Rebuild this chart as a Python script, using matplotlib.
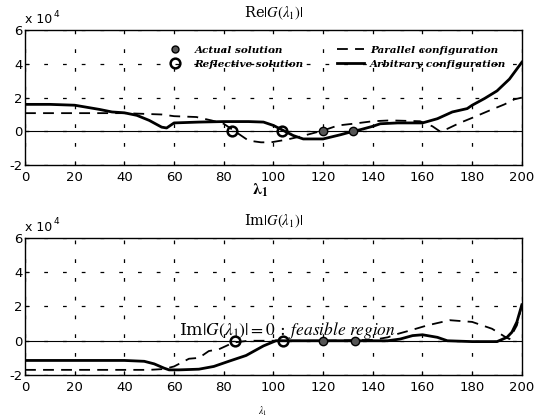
import matplotlib
matplotlib.use("Agg")
import matplotlib.pyplot as plt
import numpy as np
from matplotlib.lines import Line2D

SCALE = 1e4

# ---- Top panel: Re|G(lambda_1)| (values in units of 1e4)
re_arb_x = [0, 10, 20, 30, 35, 40, 45, 50, 55, 57, 60, 70, 80, 90, 96, 100, 104, 108, 112, 120,
            127, 132, 135, 140, 143, 150, 160, 166, 172, 178, 180, 185, 190, 195, 200]
re_arb_y = [1.6, 1.6, 1.55, 1.3, 1.15, 1.1, 0.95, 0.65, 0.25, 0.2, 0.5, 0.55, 0.58, 0.58, 0.55, 0.35,
            0.05, -0.25, -0.45, -0.45, -0.2, 0.0, 0.1, 0.3, 0.45, 0.5, 0.5, 0.75, 1.15, 1.35, 1.55,
            1.95, 2.4, 3.1, 4.1]
re_par_x = [0, 40, 55, 60, 69, 75, 80, 85, 90, 95, 99, 105, 111, 120, 126, 132, 140, 147, 159, 164,
            167, 170, 175, 180, 188, 193, 197, 200]
re_par_y = [1.08, 1.08, 1.0, 0.9, 0.85, 0.65, 0.45, -0.05, -0.55, -0.65, -0.65, -0.5, -0.3, 0.05,
            0.35, 0.45, 0.6, 0.65, 0.6, 0.3, 0.0, 0.15, 0.5, 0.8, 1.3, 1.6, 1.9, 2.0]
re_refl_x = [83.5, 103.5]
re_refl_y = [0, 0]
re_act_x = [120, 132]
re_act_y = [0, 0]

# ---- Bottom panel: Im|G(lambda_1)|
im_arb_x = [0, 40, 48, 52, 56, 58, 62, 70, 76, 82, 89, 96, 101, 110, 120, 130, 140, 146, 151, 156,
            160, 166, 170, 180, 190, 194, 196, 198, 200]
im_arb_y = [-1.15, -1.15, -1.2, -1.35, -1.6, -1.7, -1.7, -1.66, -1.5, -1.2, -0.86, -0.3, 0.0, 0.0,
            0.0, 0.0, 0.0, 0.0, 0.1, 0.3, 0.35, 0.2, 0.0, -0.05, -0.05, 0.2, 0.5, 1.1, 2.1]
im_par_x = [0, 50, 56, 60, 66, 70, 74, 78, 84, 90, 100, 120, 140, 146, 150, 155, 162, 171, 180, 188,
            193, 195, 198, 200]
im_par_y = [-1.7, -1.7, -1.65, -1.5, -1.05, -1.0, -0.6, -0.5, -0.1, 0.0, 0.0, 0.0, 0.05, 0.2, 0.4,
            0.6, 0.9, 1.2, 1.1, 0.7, 0.25, 0.1, 0.9, 2.1]
im_refl_x = [84.5, 104]
im_refl_y = [0, 0]
im_act_x = [120, 133]
im_act_y = [0, 0]

xticks = list(range(0, 201, 20))
yticks = [-2, 0, 2, 4, 6]

plt.rcParams['mathtext.fontset'] = 'stix'

fig = plt.figure(figsize=(5.38, 4.19), dpi=100)
ax1 = fig.add_axes([0.0465, 0.606, 0.9235, 0.322])
ax2 = fig.add_axes([0.0465, 0.105, 0.9235, 0.327])

grid_ls = (0, (3, 12))


def style(ax):
    ax.set_xlim(0, 200)
    ax.set_ylim(-2 * SCALE, 6 * SCALE)
    ax.set_xticks(xticks)
    ax.set_yticks([v * SCALE for v in yticks])
    ax.set_yticklabels([str(v) for v in yticks])
    ax.tick_params(direction='in', length=3, labelsize=9.5, width=0.8)
    ax.tick_params(axis='x', pad=4)
    ax.tick_params(axis='y', pad=1.5)
    for s in ax.spines.values():
        s.set_linewidth(1.0)
    ax.grid(True, color='black', linestyle=grid_ls, linewidth=0.9)
    ax.axhline(0, color='black', linewidth=0.8, zorder=1)
    ax.text(0.0, 1.03, r"x 10", transform=ax.transAxes, fontsize=9,
            ha='left', va='bottom')
    ax.text(0.058, 1.085, r"4", transform=ax.transAxes, fontsize=6.5,
            ha='left', va='bottom')


def draw(ax, ax_x, ax_y, px, py, rx, ry, axx, axy):
    ax.plot(px, np.array(py) * SCALE, color='black', linestyle=(0, (6, 4)), linewidth=1.3, zorder=3)
    ax.plot(ax_x, np.array(ax_y) * SCALE, color='black', linewidth=2.0, zorder=3)
    ax.plot(rx, np.array(ry) * SCALE, linestyle='none', marker='o', markersize=7,
            markerfacecolor='none', markeredgecolor='black', markeredgewidth=1.8, zorder=4)
    ax.plot(axx, np.array(axy) * SCALE, linestyle='none', marker='o', markersize=6,
            markerfacecolor='#555555', markeredgecolor='black', markeredgewidth=1.0, zorder=4)


style(ax1)
style(ax2)
draw(ax1, re_arb_x, re_arb_y, re_par_x, re_par_y, re_refl_x, re_refl_y, re_act_x, re_act_y)
draw(ax2, im_arb_x, im_arb_y, im_par_x, im_par_y, im_refl_x, im_refl_y, im_act_x, im_act_y)

ax1.set_title(r"Re$|G(\lambda_1)|$", fontsize=10.5, pad=9, family='serif')
ax2.set_title(r"Im$|G(\lambda_1)|$", fontsize=10.5, pad=9, family='serif')
ax1.set_xlabel(r"$\mathbf{\lambda_1}$", fontsize=12)
ax1.xaxis.set_label_coords(0.474, -0.12, transform=ax1.transAxes)
ax1.xaxis.label.set_va('top')
ax2.set_xlabel(r"$\lambda_1$", fontsize=7)
ax2.xaxis.set_label_coords(0.478, -0.215, transform=ax2.transAxes)
ax2.xaxis.label.set_va('top')

handles = [
    Line2D([], [], linestyle='none', marker='o', markersize=5, markerfacecolor='#555555',
           markeredgecolor='black'),
    Line2D([], [], linestyle='none', marker='o', markersize=7, markerfacecolor='none',
           markeredgecolor='black', markeredgewidth=1.8),
    Line2D([], [], color='black', linestyle=(0, (6, 4)), linewidth=1.3),
    Line2D([], [], color='black', linewidth=2.0),
]
labels = ["Actual solution", "Reflective solution", "Parallel configuration",
          "Arbitrary configuration"]
ax1.legend(handles, labels, loc='upper left', bbox_to_anchor=(0.255, 0.955), ncol=2,
           frameon=False, handlelength=2.6, handletextpad=0.6, columnspacing=3.2,
           labelspacing=0.45,
           prop={'family': 'serif', 'style': 'italic', 'weight': 'bold', 'size': 7.5})

ax2.text(62, -0.02 * SCALE, r"Im$|G(\lambda_1)|=0$ : $\it{feasible\ region}$", fontsize=12.5,
         family='serif', ha='left', va='bottom', zorder=5)

fig.savefig("out.png", dpi=100)
